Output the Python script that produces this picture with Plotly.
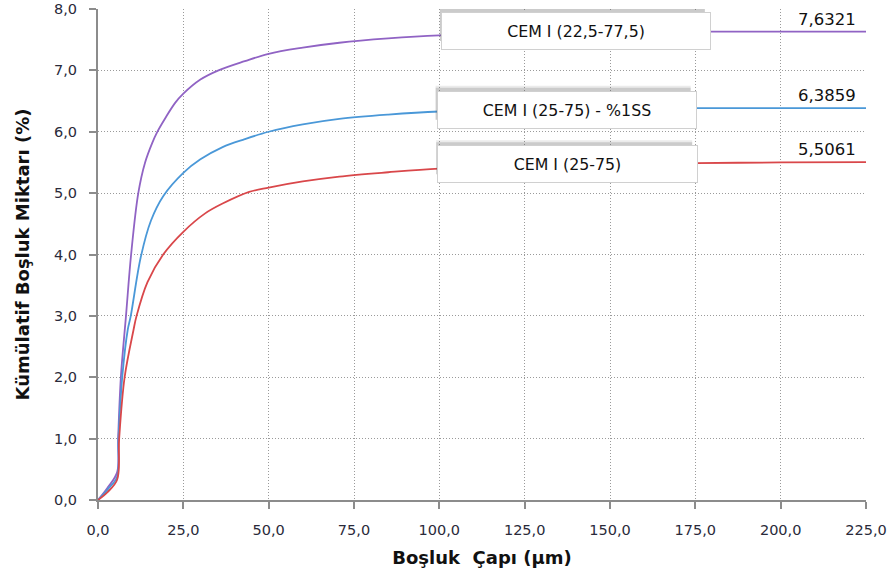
import plotly.graph_objects as go

# ---- data ----
x_purple = [0, 2.8, 5.6, 5.9, 6.7, 8.2, 9.7, 11.8, 13.8, 15.9, 17.3, 19.7, 22.6, 25, 30, 35.3, 43, 50, 60, 70.7, 85, 100, 125, 150, 175, 200, 225]
y_purple = [0, 0.2, 0.45, 1.0, 2.0, 3.0, 4.0, 5.0, 5.5, 5.82, 5.99, 6.22, 6.47, 6.62, 6.85, 7.0, 7.15, 7.27, 7.37, 7.45, 7.52, 7.57, 7.605, 7.622, 7.63, 7.632, 7.6321]

x_blue = [0, 2.8, 5.6, 6.0, 7.1, 8.7, 9.6, 12.5, 15.5, 19.1, 25, 30, 36.5, 43, 50, 60, 70.7, 85, 100, 125, 150, 175, 200, 225]
y_blue = [0, 0.17, 0.38, 1.0, 2.0, 2.77, 3.0, 3.95, 4.55, 4.95, 5.33, 5.55, 5.75, 5.88, 6.0, 6.12, 6.21, 6.28, 6.33, 6.36, 6.375, 6.385, 6.386, 6.3859]

x_red = [0, 2.8, 5.6, 6.2, 7.8, 10.4, 11.3, 14.5, 19.1, 25, 31.4, 36.5, 44.3, 50, 60, 70.7, 85, 100, 125, 150, 175, 200, 225]
y_red = [0, 0.13, 0.33, 1.0, 2.0, 2.77, 3.0, 3.55, 4.0, 4.37, 4.67, 4.83, 5.02, 5.09, 5.19, 5.27, 5.34, 5.4, 5.45, 5.48, 5.49, 5.5, 5.5061]

series_names = ["CEM I (22,5-77,5)", "CEM I (25-75) - %1SS", "CEM I (25-75)"]
final_labels = ["7,6321", "6,3859", "5,5061"]
final_values = [7.6321, 6.3859, 5.5061]
box_center_x = [140, 137.3, 137.6]
box_center_y = [7.64, 6.36, 5.47]
colors = ["#9063c4", "#4a98d8", "#d9474a"]

FONT = "DejaVu Sans"
TXT = "#2a2a3a"
fig = go.Figure()
for xs, ys, name, c in zip([x_purple, x_blue, x_red], [y_purple, y_blue, y_red], series_names, colors):
    fig.add_trace(go.Scatter(x=xs, y=ys, mode="lines", name=name,
                             line=dict(color=c, width=1.8, shape="spline", smoothing=1.0)))

box_w = [270, 260, 261]
for name, px, py, w in zip(series_names, box_center_x, box_center_y, box_w):
    # soft shadow (two layers) offset upward
    for dy, alpha in [(6, 0.12), (4, 0.22)]:
        fig.add_shape(type="rect", xref="x", yref="y", xsizemode="pixel", ysizemode="pixel",
                      xanchor=px, yanchor=py, x0=-w/2 - 1, x1=w/2 - 6, y0=-10, y1=18 + dy,
                      fillcolor=f"rgba(90,90,90,{alpha})", line=dict(width=0), layer="above")
    fig.add_annotation(x=px, y=py, text=name, showarrow=False,
                       font=dict(family=FONT, size=15.8, color="#111"),
                       bgcolor="white", bordercolor="#d0d0d0", borderwidth=1,
                       width=w - 4, height=34, align="center")

for lab, val in zip(final_labels, final_values):
    fig.add_annotation(x=225, y=val, text=lab, showarrow=False, xanchor="right", yanchor="bottom",
                       xshift=-8, yshift=1, font=dict(family=FONT, size=16.5, color="#111"))

axis_common = dict(showline=True, linecolor="#8c8c8c", linewidth=2, ticks="outside", ticklen=7,
                   tickcolor="#8c8c8c", tickwidth=2, showgrid=True, gridcolor="#9a9a9a",
                   griddash="1px,2px", gridwidth=1, zeroline=False, automargin=False,
                   ticklabelstandoff=9,
                   tickfont=dict(family=FONT, size=14.5, color=TXT), tickformat=".1f")

fig.update_xaxes(range=[0, 225], dtick=25, tick0=0,
                 title=dict(text="<b>Boşluk \u00a0Çapı (µm)</b>", font=dict(family=FONT, size=18, color="#111"), standoff=14),
                 **axis_common)
fig.update_yaxes(range=[0, 8], dtick=1, tick0=0,
                 title=dict(text="<b>Kümülatif Boşluk Miktarı (%)</b>", font=dict(family=FONT, size=18, color="#111"), standoff=20),
                 **axis_common)

fig.update_layout(width=896, height=580, margin=dict(l=98, r=30, t=9, b=80),
                  paper_bgcolor="white", plot_bgcolor="white", showlegend=False,
                  separators=",.", font=dict(family=FONT))

fig.write_html("out.html", config={"displayModeBar": False},
               post_script="document.body.style.margin='0';")
